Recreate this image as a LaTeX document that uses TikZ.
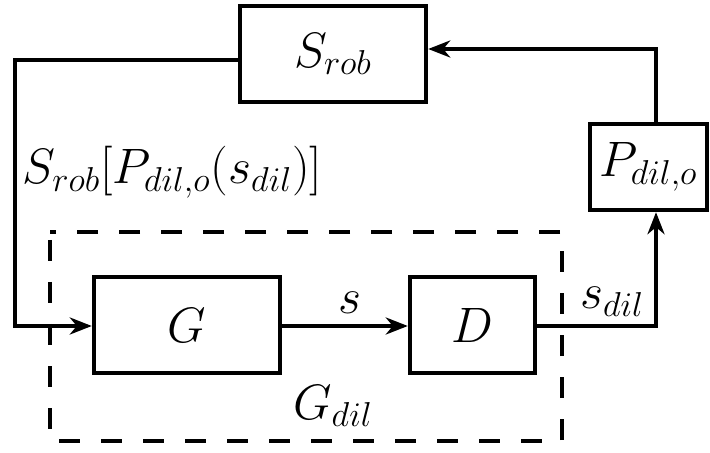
\documentclass[tikz,border=0pt]{standalone}
\usetikzlibrary{arrows.meta}
\begin{document}
\begin{tikzpicture}[x=0.5pt,y=-0.5pt,
  blk/.style={draw,line width=2.2pt,inner sep=0pt,font=\fontsize{25}{29}\selectfont},
  lbl/.style={inner sep=0pt,font=\fontsize{25}{29}\selectfont},
  arr/.style={line width=2.2pt,-{Stealth[length=11pt,width=8.5pt,inset=3.5pt]}},
  grp/.style={line width=2.2pt,dash pattern=on 10.5pt off 10.5pt,dash phase=17pt}]
\useasboundingbox (0,0) rectangle (710,453);
\node[blk,minimum width=93pt,minimum height=48pt] (srob) at (333,54) {$S_{rob}$};
\node[blk,minimum width=58.5pt,minimum height=43pt] (pdil) at (648.5,167) {$P_{dil,o}$};
\node[blk,minimum width=93pt,minimum height=48pt] (g) at (187,325) {$G$};
\node[blk,minimum width=62.5pt,minimum height=48pt] (d) at (472.5,325) {$D$};
\draw[grp] (50,232) -- (50,441) -- (562,441) -- (562,232) -- cycle;
\node[lbl] (gdil) at (333,406) {$G_{dil}$};
\node[lbl,anchor=west] (fb) at (22,172) {$S_{rob}[P_{dil,o}(s_{dil})]$};
\node[lbl] (s) at (350,303) {$s$};
\node[lbl] (sdil) at (612,302) {$s_{dil}$};
\coordinate (l1) at (15,60);
\coordinate (l2) at (15,326);
\coordinate (r1) at (656,326);
\coordinate (t1) at (656,49);
\draw[arr] (srob.west |- l1) -- (l1) -- (l2) -- (g.west |- l2);
\draw[arr] (g.east |- l2) -- (d.west |- l2);
\draw[arr] (d.east |- r1) -- (r1) -- (pdil.south -| r1);
\draw[arr] (pdil.north -| t1) -- (t1) -- (srob.east |- t1);
\end{tikzpicture}
\end{document}
